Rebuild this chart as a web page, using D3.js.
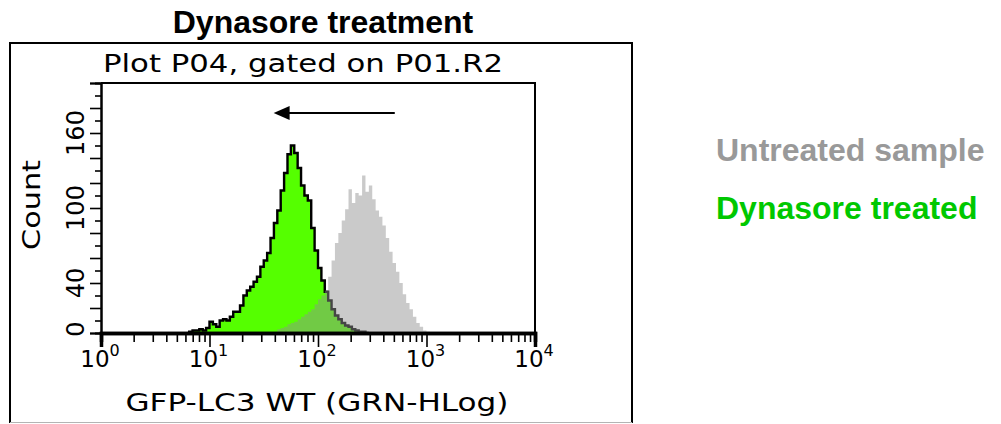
<!DOCTYPE html>
<html><head><meta charset="utf-8">
<script src="https://cdn.jsdelivr.net/npm/d3@7/dist/d3.min.js"></script>
<style>body{margin:0;background:#fff;} svg{display:block}</style>
</head><body>
<svg id="c" width="1001" height="424"></svg>
<script>
// ---- data ----
const chartTitle = "Dynasore treatment";
const plotTitle = "Plot P04, gated on P01.R2";
const xTitle = "GFP-LC3 WT (GRN-HLog)";
const yTitle = "Count";
const binsPerDecade = 32;
const xDecades = [0, 1, 2, 3, 4];
const yTickLabels = [0, 40, 100, 160];
const yMax = 200;
// Dynasore treated histogram (green), counts per channel starting at channel greenStartBin
const greenStartBin = 26;
const greenCounts = [1,2,2,3,2,4,9,7,5,10,11,10,13,17,17,22,30,34,37,41,45,53,58,64,76,88,98,114,128,143,150,144,132,118,110,106,84,66,52,42,33,26,19,14,11,8,6,5,3,2,1,1,0];
// Untreated sample histogram (gray)
const grayStartBin = 51;
const grayCounts = [1,3,4,5,7,8,9,11,13,15,17,19,23,27,30,34,45,58,72,80,90,99,115,104,112,110,126,113,118,107,98,93,86,76,65,56,49,40,31,24,19,13,8,5,2,1];
const legendLabels = ["Untreated sample", "Dynasore treated"];
const legendColors = ["#999999", "#00c800"];
const arrowFrom = 510, arrowTo = 39, arrowCount = 176;

// ---- drawing ----
const svg = d3.select("#c");
const x = d3.scaleLog().domain([1, 1e4]).range([101, 535]);
const y = d3.scaleLinear().domain([0, yMax]).range([333, 83]);

// outer frame
svg.append("path").attr("d", "M10,423V43H632V423").attr("fill", "none").attr("stroke", "#000").attr("stroke-width", 2);
svg.append("line").attr("x1", 10).attr("x2", 632).attr("y1", 422.5).attr("y2", 422.5).attr("stroke", "#b4b4b4").attr("stroke-width", 1);

// chart title
svg.append("text").attr("x", 323).attr("y", 33).attr("text-anchor", "middle")
  .attr("font-family", "Liberation Sans, Arial, sans-serif").attr("font-weight", "bold").attr("font-size", 32)
  .text(chartTitle);

const fcsFont = "DejaVu Sans, sans-serif";
svg.append("text").attr("x", 103).attr("y", 72).attr("font-family", fcsFont).attr("font-size", 25)
  .attr("textLength", 400).attr("lengthAdjust", "spacingAndGlyphs").text(plotTitle);

function histPoints(start, counts) {
  const pts = [[x(Math.pow(10, start / binsPerDecade)), y(0)]];
  counts.forEach((c, k) => {
    const lo = Math.pow(10, (start + k) / binsPerDecade), hi = Math.pow(10, (start + k + 1) / binsPerDecade);
    pts.push([x(lo), y(c)], [x(hi), y(c)]);
  });
  pts.push([x(Math.pow(10, (start + counts.length) / binsPerDecade)), y(0)]);
  return pts;
}
const line = d3.line();
const gPts = histPoints(greenStartBin, greenCounts);
svg.append("path").attr("d", line(gPts) + "Z").attr("fill", "#55ff00").attr("stroke", "none");
svg.append("path").attr("d", line(gPts)).attr("fill", "none").attr("stroke", "#000").attr("stroke-width", 2.4).attr("stroke-linejoin", "miter");
const grPts = histPoints(grayStartBin, grayCounts);
svg.append("path").attr("d", line(grPts) + "Z").attr("fill", "rgba(145,145,145,0.48)").attr("stroke", "none");

// plot box (top and right)
svg.append("path").attr("d", `M${x(1)},${y(yMax)}H${x(1e4)}V${y(0)}`).attr("fill", "none").attr("stroke", "#000").attr("stroke-width", 2);
// y axis
const yMinor = d3.range(0, yMax + 1, 10);
const yAxG = svg.append("g").attr("transform", `translate(${x(1)},0)`);
yAxG.call(d3.axisLeft(y).tickValues(yMinor.filter(v => v % 20 !== 0)).tickSize(6).tickFormat(""));
const yAxG2 = svg.append("g").attr("transform", `translate(${x(1)},0)`);
yAxG2.call(d3.axisLeft(y).tickValues(yMinor.filter(v => v % 20 === 0)).tickSize(11).tickFormat(""));
[yAxG, yAxG2].forEach(g => { g.select(".domain").attr("stroke-width", 2); g.selectAll(".tick line").attr("stroke-width", 1.6); });
yTickLabels.forEach(v => {
  const yy = Math.min(y(v), 329);
  svg.append("text").attr("transform", `translate(84,${yy}) rotate(-90)`).attr("text-anchor", "middle")
    .attr("font-family", fcsFont).attr("font-size", 24).text(v);
});
svg.append("text").attr("transform", `translate(40,205) rotate(-90)`).attr("text-anchor", "middle")
  .attr("font-family", fcsFont).attr("font-size", 25).attr("textLength", 90).attr("lengthAdjust", "spacingAndGlyphs").text(yTitle);

// x axis
const xMinor = [];
for (let d = 0; d < 4; d++) for (let m = 2; m <= 9; m++) xMinor.push(m * Math.pow(10, d));
const xAxG = svg.append("g").attr("transform", `translate(0,${y(0)})`);
xAxG.call(d3.axisBottom(x).tickValues(xMinor).tickSize(9).tickFormat(""));
const xAxG2 = svg.append("g").attr("transform", `translate(0,${y(0)})`);
xAxG2.call(d3.axisBottom(x).tickValues(xDecades.map(d => Math.pow(10, d))).tickSize(14).tickFormat(""));
[xAxG, xAxG2].forEach(g => { g.select(".domain").attr("stroke-width", 3.5); g.selectAll(".tick line").attr("stroke-width", 1.6); });
xDecades.forEach(d => {
  const t = svg.append("text").attr("x", x(Math.pow(10, d)) - 1).attr("y", 367).attr("text-anchor", "middle")
    .attr("font-family", fcsFont).attr("font-size", 23);
  t.append("tspan").text("10");
  t.append("tspan").attr("dy", -11).attr("font-size", 16).text(d);
});
svg.append("text").attr("x", 317).attr("y", 411).attr("text-anchor", "middle").attr("font-family", fcsFont)
  .attr("font-size", 25).attr("textLength", 383).attr("lengthAdjust", "spacingAndGlyphs").text(xTitle);

// arrow
const ay = y(arrowCount);
svg.append("line").attr("x1", x(arrowFrom)).attr("x2", x(arrowTo) + 14).attr("y1", ay).attr("y2", ay).attr("stroke", "#000").attr("stroke-width", 2);
svg.append("path").attr("d", `M${x(arrowTo)},${ay}l16,-7v14Z`).attr("fill", "#000");

// legend
legendLabels.forEach((l, i) => {
  svg.append("text").attr("x", 716).attr("y", 161 + i * 58).attr("font-family", "Liberation Sans, Arial, sans-serif")
    .attr("font-weight", "bold").attr("font-size", 32).attr("fill", legendColors[i]).text(l);
});
</script>
</body></html>
